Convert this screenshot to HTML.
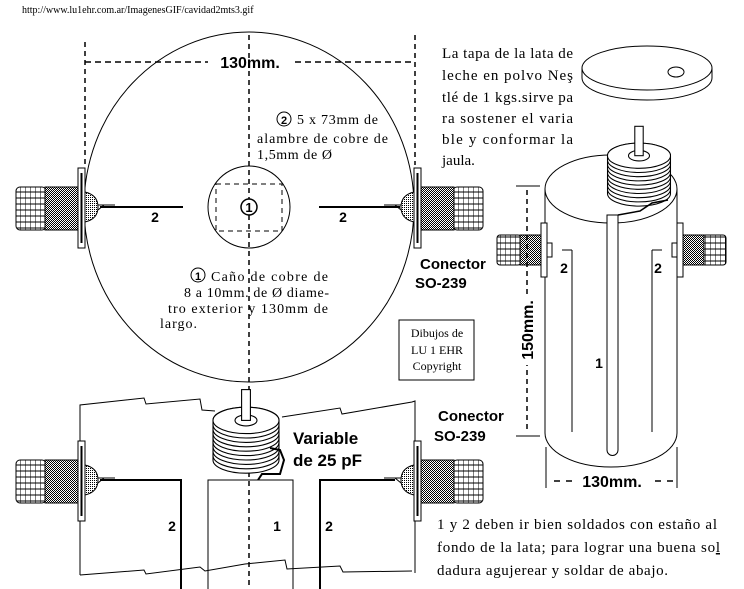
<!DOCTYPE html>
<html><head><style>
html,body{margin:0;padding:0;background:#fff;}
svg{display:block;}
.s{font-family:"Liberation Serif",serif;fill:#000;}
.b{font-family:"Liberation Sans",sans-serif;font-weight:bold;fill:#000;}
</style></head><body>
<svg width="744" height="589" viewBox="0 0 744 589" xmlns="http://www.w3.org/2000/svg">
<defs>
<pattern id="knurl" width="2" height="2" patternUnits="userSpaceOnUse"><rect width="2" height="2" fill="#fff"/><rect width="1" height="1" fill="#000"/><rect x="1" y="1" width="1" height="1" fill="#000"/></pattern>
<pattern id="thr" width="5" height="6" patternUnits="userSpaceOnUse"><rect width="5" height="6" fill="#fff"/><path d="M0 0V6M0 3H5" stroke="#000" stroke-width="1"/></pattern>
<pattern id="dot" width="2" height="2" patternUnits="userSpaceOnUse"><rect width="2" height="2" fill="#fff"/><rect width="1" height="1" fill="#000"/></pattern>
<g id="connL">
<rect x="16" y="-20" width="30" height="43" rx="4" fill="url(#thr)" stroke="#000"/>
<rect x="45" y="-20" width="33" height="43" fill="url(#knurl)" stroke="#000"/>
<rect x="78" y="-39" width="7" height="80" fill="#fff" stroke="#000"/>
<line x1="81.5" y1="-34" x2="81.5" y2="36" stroke="#000" stroke-width="2"/>
<path d="M85 -15 Q98 -12 98 0 Q98 12 85 15 Z" fill="url(#dot)" stroke="#000"/>
<path d="M98 -2 L115 -2 M98 3 L104 -2" stroke="#000" fill="none"/>
</g>
<g id="cap">
<g fill="#fff" stroke="#000">
<path d="M-30 30 V-6 A30 12 0 0 1 30 -6 V30 A30 12 0 0 1 -30 30Z"/>
<path d="M-30 -2 A30 12 0 0 0 30 -2 M-30 2 A30 12 0 0 0 30 2 M-30 6 A30 12 0 0 0 30 6 M-30 10 A30 12 0 0 0 30 10 M-30 14 A30 12 0 0 0 30 14 M-30 18 A30 12 0 0 0 30 18 M-30 22 A30 12 0 0 0 30 22 M-30 26 A30 12 0 0 0 30 26" fill="none"/>
<ellipse cx="0" cy="-6" rx="30" ry="12"/>
<ellipse cx="0" cy="-6" rx="10" ry="5"/>
<rect x="-4" y="-34" width="8" height="28"/>
</g>
</g>
</defs>

<text x="22" y="13" class="s" font-size="10">http://www.lu1ehr.com.ar/ImagenesGIF/cavidad2mts3.gif</text>

<!-- top view -->
<g stroke="#000" fill="none">
<ellipse cx="249" cy="207" rx="165" ry="175" stroke-width="1"/>
<ellipse cx="249" cy="207" rx="41" ry="41"/>
<rect x="216" y="184" width="66" height="47" stroke-dasharray="5,4"/>
<line x1="249" y1="35" x2="249" y2="395" stroke-dasharray="5,4" stroke-width="1.5"/>
<line x1="85" y1="42" x2="85" y2="165" stroke-dasharray="5,4" stroke-width="1.5"/>
<line x1="415" y1="35" x2="415" y2="165" stroke-dasharray="5,4" stroke-width="1.5"/>
<line x1="85" y1="62" x2="208" y2="62" stroke-dasharray="6,4" stroke-width="1.5"/>
<line x1="295" y1="62" x2="415" y2="62" stroke-dasharray="6,4" stroke-width="1.5"/>
<line x1="100" y1="207" x2="183" y2="207" stroke-width="2"/>
<line x1="319" y1="207" x2="400" y2="207" stroke-width="2"/>
</g>
<text x="250" y="68" class="b" font-size="16" text-anchor="middle">130mm.</text>
<circle cx="249" cy="207" r="8" fill="#fff" stroke="#000" stroke-width="1.5"/><text x="249" y="212" class="b" font-size="13" text-anchor="middle">1</text>
<use href="#connL" x="0" y="207"/>
<use href="#connL" transform="translate(499,207) scale(-1,1)"/>
<text x="155" y="222" class="b" font-size="14" text-anchor="middle">2</text>
<text x="343" y="222" class="b" font-size="14" text-anchor="middle">2</text>
<circle cx="284" cy="119" r="7" fill="none" stroke="#000"/><text x="284" y="124" class="b" font-size="11" text-anchor="middle">2</text>
<g class="s" font-size="14" lengthAdjust="spacing">
<text x="297" y="124" textLength="81">5 x 73mm de</text>
<text x="257" y="143" textLength="131">alambre de cobre de</text>
<text x="257" y="159" textLength="75">1,5mm de Ø</text>
<text x="211" y="281" textLength="117">Caño de cobre de</text>
<text x="184" y="297" textLength="145">8 a 10mm. de Ø diame-</text>
<text x="168" y="313" textLength="160">tro exterior  y 130mm de</text>
<text x="160" y="328" textLength="37">largo.</text>
</g>
<circle cx="198" cy="275" r="7" fill="none" stroke="#000"/><text x="198" y="280" class="b" font-size="11" text-anchor="middle">1</text>
<text x="420" y="269" class="b" font-size="15">Conector</text>
<text x="415" y="288" class="b" font-size="15">SO-239</text>
<rect x="399" y="320" width="75" height="60" fill="#fff" stroke="#000"/>
<g class="s" font-size="12" text-anchor="middle"><text x="437" y="337">Dibujos de</text><text x="437" y="354">LU 1 EHR</text><text x="437" y="370">Copyright</text></g>

<!-- right text -->
<g class="s" font-size="15">
<text x="442" y="58" textLength="131">La tapa de la lata de</text>
<text x="442" y="80" textLength="131">leche en polvo Neş</text>
<text x="442" y="102" textLength="131">tlé de 1 kgs.sirve pa</text>
<text x="442" y="123" textLength="131">ra sostener el  varia</text>
<text x="442" y="144" textLength="131">ble  y   conformar la</text>
<text x="442" y="165">jaula.</text>
</g>
<!-- lid -->
<g stroke="#000" fill="#fff">
<path d="M582 68 V78 A65 22 0 0 0 712 78 V68"/>
<ellipse cx="647" cy="68" rx="65" ry="22"/>
<ellipse cx="676" cy="72" rx="8" ry="5"/>
</g>
<!-- cylinder -->
<g stroke="#000" fill="#fff">
<path d="M545 189 V433 A66 34 0 0 0 677 433 V189"/>
<ellipse cx="611" cy="189" rx="66" ry="34"/>
<path d="M607 215 H618 V450 A5.5 5.5 0 0 1 607 450 Z"/>
<path d="M572 250 V432 M562 250 H572 M652 250 V432 M652 250 H662" fill="none"/>
</g>
<use href="#cap" transform="translate(639,162) scale(1.05)"/>
<path d="M618 215 L640 211 L652 203 L668 200" stroke="#000" fill="none" stroke-width="1.5"/>
<g stroke="#000">
<rect x="497" y="235" width="24" height="30" rx="3" fill="url(#thr)"/>
<rect x="520" y="235" width="21" height="30" fill="url(#knurl)"/>
<rect x="541" y="223" width="6" height="54" fill="#fff"/>
<rect x="547" y="243" width="5" height="14" fill="#fff"/>
<rect x="702" y="235" width="24" height="30" rx="3" fill="url(#thr)"/>
<rect x="683" y="235" width="21" height="30" fill="url(#knurl)"/>
<rect x="677" y="223" width="6" height="54" fill="#fff"/>
<rect x="672" y="243" width="5" height="14" fill="#fff"/>
</g>
<text x="564" y="273" class="b" font-size="14" text-anchor="middle">2</text>
<text x="658" y="273" class="b" font-size="14" text-anchor="middle">2</text>
<text x="599" y="368" class="b" font-size="14" text-anchor="middle">1</text>
<g stroke="#000" fill="none">
<line x1="527" y1="190" x2="527" y2="432" stroke-dasharray="5,4" stroke-width="1.5"/>
<line x1="516" y1="186" x2="540" y2="186"/>
<line x1="516" y1="436" x2="540" y2="436"/>
<line x1="546" y1="447" x2="546" y2="488"/>
<line x1="677" y1="447" x2="677" y2="488"/>
<path d="M554 481 H560 M566 481 H572 M655 481 H661 M667 481 H673" stroke-width="1.5"/>
</g>
<rect x="518" y="295" width="20" height="70" fill="#fff"/>
<text transform="translate(533,330) rotate(-90)" class="b" font-size="16" text-anchor="middle">150mm.</text>
<text x="612" y="487" class="b" font-size="16" text-anchor="middle">130mm.</text>

<text x="438" y="421" class="b" font-size="15">Conector</text>
<text x="434" y="441" class="b" font-size="15">SO-239</text>
<g class="s" font-size="15">
<text x="437" y="529" textLength="280">1 y 2 deben ir bien soldados con estaño al</text>
<text x="437" y="552" textLength="283">fondo de la lata; para lograr una buena so<tspan text-decoration="underline">l</tspan></text>
<text x="437" y="575" textLength="231">dadura agujerear y soldar de abajo.</text>
</g>

<!-- bottom-left cutaway -->
<g stroke="#000" fill="none">
<path d="M80 575 V405 L144 398 L146 404 L200 399 L202 410 L215 411"/>
<path d="M282 417 L340 408 L342 414 L412 402 L415 401 V573"/>
<path d="M80 575 L144 570 L146 574 L200 567 L205 571 L245 564 L285 560 L287 569 L340 566 L343 572 L412 571"/>
<rect x="208" y="480" width="85" height="110"/>
<path d="M100 480 H181 V589" stroke-width="2"/>
<path d="M395 480 H320 V589" stroke-width="2"/>
<line x1="249" y1="400" x2="249" y2="589" stroke-dasharray="5,4" stroke-width="1.5"/>
</g>
<use href="#connL" x="0" y="480"/>
<use href="#connL" transform="translate(499,480) scale(-1,1)"/>
<use href="#cap" transform="translate(246,427) scale(1.1)"/>
<path d="M258 480 L262 474 L280 474 L284 460 L280 450 L270 448" stroke="#000" fill="none" stroke-width="2"/>
<text x="293" y="444" class="b" font-size="17">Variable</text>
<text x="293" y="466" class="b" font-size="17">de 25 pF</text>
<text x="172" y="531" class="b" font-size="14" text-anchor="middle">2</text>
<text x="277" y="531" class="b" font-size="14" text-anchor="middle">1</text>
<text x="329" y="531" class="b" font-size="14" text-anchor="middle">2</text>
</svg>
</body></html>
